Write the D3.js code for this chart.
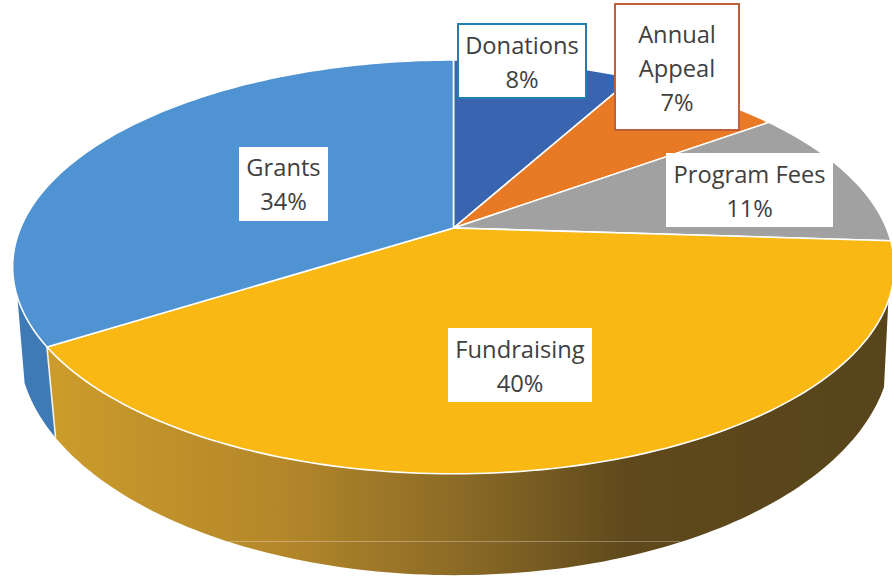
<!DOCTYPE html>
<html>
<head>
<meta charset="utf-8">
<script src="https://cdn.jsdelivr.net/npm/d3@7/dist/d3.min.js"></script>
<style>
html,body{margin:0;padding:0;background:#fff;overflow:hidden}
svg{display:block}
text{font-family:"Open Sans",sans-serif;fill:#404040;text-anchor:middle}
</style>
</head>
<body>
<svg id="chart" width="892" height="577"></svg>
<script>
// Data
const categories = ["Donations", "Annual Appeal", "Program Fees", "Fundraising", "Grants"];
const values = [8, 7, 11, 40, 34];
const labelLines = [["Donations", "8%"], ["Annual", "Appeal", "7%"], ["Program Fees", "11%"], ["Fundraising", "40%"], ["Grants", "34%"]];

// Styles
const topColors = ["#3965b0", "#e97a25", "#a1a1a1", "#f9b814", "#5093d2"];
const wallColors = ["#2c4f8a", "#b55f1c", "#7d7d7d", "url(#wallGold)", "#3e7ab6"];
const labelBorders = [ "#1f7fb4", "#c0603a", null, null, null ];

// Layout: box [x0, y0, x1, y1] and first baseline of each label
const labelBoxes = [[458, 24, 586, 98], [615, 4, 739, 130], [666, 153, 833, 227], [448, 328, 592, 402], [239, 147, 328, 221]];
const labelBaselines = [54, 43, 182.5, 358, 176];
const lineHeight = 34;
const fontSize = 23.7;

// Projection of a tilted unit disc onto the page
const topPlane = {cx: 453.5, cy: 228, K: 433, k: 199.6, c: -0.188};
const botPlane = {cx: 455, cy: 306, K: 430, k: 223.4, c: -0.17};
const project = (p, a) => {
  const u = Math.sin(a), v = -Math.cos(a), d = 1 + p.c * v;
  return [p.cx + p.K * u / d, p.cy + p.k * v / d];
};
const arcPts = (p, a0, a1) => d3.range(0, 121).map(i => project(p, a0 + (a1 - a0) * i / 120));

const svg = d3.select("#chart");
const pie = d3.pie().sort(null).value(d => d)(values);
const line = d3.line();

// Wall gradient
const stops = [[0, "#cb9b2b"], [0.27, "#b4872a"], [0.48, "#8c6b26"], [0.68, "#5f491c"], [1, "#57441a"]];
const grad = svg.append("defs").append("linearGradient")
  .attr("id", "wallGold").attr("gradientUnits", "userSpaceOnUse")
  .attr("x1", 57).attr("x2", 892).attr("y1", 0).attr("y2", 0);
grad.selectAll("stop").data(stops).join("stop")
  .attr("offset", d => d[0]).attr("stop-color", d => d[1]);

// Side walls (only the part that faces the viewer)
const visFrom = 110 * Math.PI / 180, visTo = 251 * Math.PI / 180;
svg.append("g").selectAll("path")
  .data(pie.filter(d => d.endAngle > visFrom && d.startAngle < visTo))
  .join("path")
  .attr("d", d => {
    const a0 = Math.max(d.startAngle, visFrom), a1 = Math.min(d.endAngle, visTo);
    return line(arcPts(topPlane, a0, a1).concat(arcPts(botPlane, a1, a0))) + "Z";
  })
  .attr("fill", d => wallColors[d.index]);

// Divider on the wall between slices
pie.filter(d => d.startAngle > visFrom && d.startAngle < visTo).forEach(d => {
  svg.append("path").attr("d", line([project(topPlane, d.startAngle), project(botPlane, d.startAngle)]))
    .attr("stroke", "#f4f1e4").attr("stroke-width", 1.6).attr("fill", "none");
});

// Faint scan artefact across the wall
svg.append("line").attr("x1", 228).attr("x2", 680).attr("y1", 541.5).attr("y2", 541.5)
  .attr("stroke", "#fff").attr("stroke-opacity", 0.3).attr("stroke-width", 1);

// Top faces
svg.append("g").selectAll("path").data(pie).join("path")
  .attr("d", d => line([[topPlane.cx, topPlane.cy]].concat(arcPts(topPlane, d.startAngle, d.endAngle))) + "Z")
  .attr("fill", d => topColors[d.index])
  .attr("stroke", "#fff").attr("stroke-width", 1.6).attr("stroke-linejoin", "round");

// Labels
const lab = svg.append("g").selectAll("g").data(categories).join("g");
lab.append("rect")
  .attr("x", (d, i) => labelBoxes[i][0]).attr("y", (d, i) => labelBoxes[i][1])
  .attr("width", (d, i) => labelBoxes[i][2] - labelBoxes[i][0])
  .attr("height", (d, i) => labelBoxes[i][3] - labelBoxes[i][1])
  .attr("fill", "#fff")
  .attr("stroke", (d, i) => labelBorders[i] || "none")
  .attr("stroke-width", 2);
lab.each(function (d, i) {
  const cx = (labelBoxes[i][0] + labelBoxes[i][2]) / 2;
  d3.select(this).selectAll("text").data(labelLines[i]).join("text")
    .attr("x", cx)
    .attr("y", (t, j) => labelBaselines[i] + j * lineHeight)
    .attr("font-size", fontSize)
    .text(t => t);
});
</script>
</body>
</html>
